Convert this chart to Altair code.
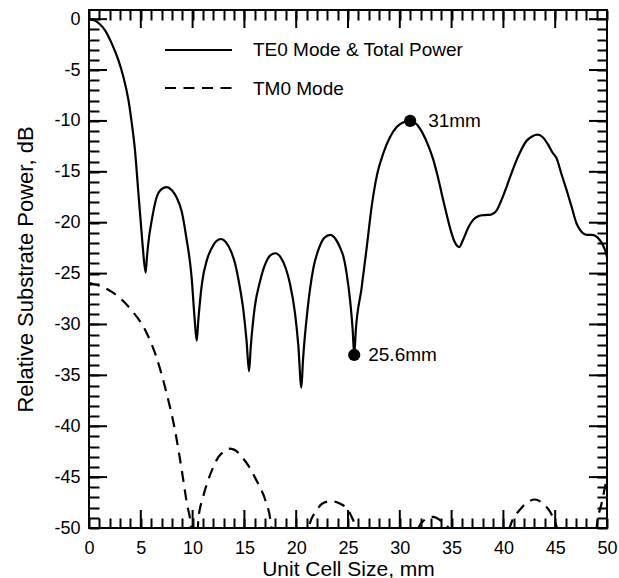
import altair as alt
import pandas as pd

# ---------------- data ----------------
te0_x = [0, 0.5, 1.0, 1.55, 2.2, 2.83, 3.3, 3.8, 4.1, 4.44, 4.76, 5.0, 5.2, 5.47,
         5.6, 5.8, 6.05, 6.5, 7.0, 7.5, 8.0, 8.5, 8.95, 9.4, 9.9, 10.2, 10.4,
         10.55, 10.9, 11.4, 11.84, 12.3, 12.75, 13.2, 13.7, 14.1, 14.5, 14.9, 15.2, 15.45,
         15.6, 16.0, 16.5, 17.0, 17.5, 18.0, 18.5, 19.0, 19.4, 19.9, 20.2, 20.5,
         20.65, 21.1, 21.65, 22.2, 22.7, 23.3, 23.8, 24.3, 24.55, 24.87, 25.2, 25.45, 25.6,
         25.75, 26.3, 26.8, 27.3, 27.8, 28.4, 29.0, 29.7, 30.3, 31.0,
         31.6, 32.2, 32.7, 33.2, 33.7, 34.1, 34.5, 34.9, 35.3, 35.75,
         36.1, 36.6, 37.1, 37.6, 38.2, 38.8, 39.35, 39.8, 40.3, 40.9, 41.6, 42.2, 42.8, 43.3,
         43.8, 44.3, 44.8, 45.1, 45.6, 46.1, 46.6, 47.07, 47.4, 47.7, 48.1, 48.5, 48.9,
         49.3, 49.6, 49.85, 50.0]
te0_db = [0, -0.1, -0.45, -1.1, -2.4, -4.0, -5.6, -7.9, -10.0, -12.9, -17.0, -20.0, -22.5, -24.9,
          -23.3, -21.4, -19.8, -17.6, -16.7, -16.5, -16.8, -17.6, -18.9, -21.5, -25.3, -29.5, -31.6,
          -29.6, -26.0, -23.6, -22.5, -21.8, -21.6, -21.9, -22.8, -24.0, -26.0, -28.6, -31.5, -34.6,
          -32.4, -28.3, -25.8, -24.1, -23.2, -23.0, -23.4, -24.5, -26.0, -29.0, -32.0, -36.2,
          -33.6, -28.5, -24.5, -22.5, -21.5, -21.2, -21.6, -22.6, -23.3, -25.0, -27.6, -30.5, -33.0,
          -30.6, -26.5, -22.5, -18.3, -15.3, -13.2, -11.7, -10.6, -10.15, -10.0,
          -10.3, -11.2, -12.3, -13.7, -15.6, -17.4, -19.1, -20.7, -21.9, -22.4,
          -21.7, -20.5, -19.7, -19.35, -19.25, -19.2, -18.8, -17.8, -16.5, -14.8, -13.1, -12.0, -11.5, -11.35,
          -11.6, -12.3, -13.2, -13.6, -15.2, -16.8, -18.5, -20.1, -20.7, -21.05, -21.2, -21.2, -21.3,
          -21.7, -22.2, -22.8, -23.4]

tm0_x = [0, 1.0, 2.2, 3.2, 4.1, 5.4, 6.5, 7.5, 8.3, 8.95, 9.45, 9.85, 10.1,
         10.3, 10.55, 11.0, 11.5, 12.0, 12.5, 13.0, 13.5, 14.0, 14.74, 15.4, 16.0, 16.5, 17.0, 17.6, 17.9,
         20.9, 21.2, 22.0, 22.7, 23.4, 24.2, 24.9, 25.3, 25.7, 26.0,
         31.5, 31.8, 32.4, 33.2, 34.0, 34.7, 35.0,
         40.3, 40.6, 41.6, 42.3, 43.05, 43.7, 44.3, 44.8, 45.15, 45.4,
         48.7, 49.0, 49.5, 50.0]
tm0_db = [-25.9, -26.2, -26.8, -27.6, -28.6, -30.5, -33.2, -36.8, -40.4, -44.3, -47.6, -50.0, -60.0,
          -60.0, -49.2, -47.0, -45.3, -44.0, -43.0, -42.5, -42.2, -42.3, -43.0, -43.9, -45.0, -46.0, -47.2, -49.9, -60.0,
          -60.0, -50.0, -48.2, -47.5, -47.35, -47.6, -48.1, -48.8, -50.0, -60.0,
          -60.0, -50.0, -49.2, -48.9, -49.3, -50.0, -60.0,
          -60.0, -50.0, -48.2, -47.5, -47.2, -47.5, -48.1, -49.0, -50.0, -60.0,
          -60.0, -50.0, -47.5, -45.0]

marker_x = [25.6, 31.0]
marker_db = [-33.0, -10.0]
marker_labels = ["25.6mm", "31mm"]

legend_labels = ["TE0 Mode & Total Power", "TM0 Mode"]

x_major = [0, 5, 10, 15, 20, 25, 30, 35, 40, 45, 50]
x_all = list(range(0, 51))
y_major = [0, -5, -10, -15, -20, -25, -30, -35, -40, -45, -50]
y_all = list(range(-50, 1))

x_title = "Unit Cell Size, mm"
y_title = "Relative Substrate Power, dB"

# ---------------- tables ----------------
te0 = pd.DataFrame({"size": te0_x, "db": te0_db})
tm0 = pd.DataFrame({"size": tm0_x, "db": tm0_db})
marks = pd.DataFrame({"size": marker_x, "db": marker_db, "label": marker_labels})
leg1 = pd.DataFrame({"label": [legend_labels[0]]})
leg2 = pd.DataFrame({"label": [legend_labels[1]]})

FONT = "Liberation Sans, Arial, sans-serif"
W, H = 518, 518
MAJOR, MINOR = 18, 10
X_MIN, X_MAX, Y_MIN, Y_MAX = 0, 50, -50, 0.9
PX_PER_X = W / (X_MAX - X_MIN)
PX_PER_Y = H / (Y_MAX - Y_MIN)

xs = alt.Scale(domain=[X_MIN, X_MAX], nice=False, zero=False)
ys = alt.Scale(domain=[Y_MIN, Y_MAX], nice=False, zero=False)

# long inward major ticks as two-point line segments (one id per tick)
seg_rows = []
k = 0
for v in x_major:
    for edge, sign in ((Y_MIN, 1), (Y_MAX, -1)):
        seg_rows.append({"id": k, "size": v, "db": edge})
        seg_rows.append({"id": k, "size": v, "db": edge + sign * MAJOR / PX_PER_Y})
        k += 1
for v in y_major:
    for edge, sign in ((X_MIN, 1), (X_MAX, -1)):
        seg_rows.append({"id": k, "size": edge, "db": v})
        seg_rows.append({"id": k, "size": edge + sign * MAJOR / PX_PER_X, "db": v})
        k += 1
major_ticks = pd.DataFrame(seg_rows)

x_axis = alt.Axis(title=x_title, values=x_major, ticks=False, domain=False, grid=False,
                  labelFont=FONT, labelFontSize=18, labelColor="black", labelPadding=11,
                  labelFlush=False, labelOverlap=False, labelExpr="'' + datum.value",
                  titleFont=FONT, titleFontSize=21, titleFontWeight="normal", titleColor="black",
                  titleX=259, titleY=47, titleBaseline="alphabetic")
y_axis = alt.Axis(title=y_title, values=y_major, ticks=False, domain=False, grid=False,
                  labelFont=FONT, labelFontSize=18, labelColor="black", labelPadding=9,
                  labelFlush=False, labelOverlap=False, labelExpr="'' + datum.value",
                  titleFont=FONT, titleFontSize=22, titleFontWeight="normal", titleColor="black",
                  titleX=-57, titleY=259, titleAngle=270, titleBaseline="alphabetic",
                  titleAlign="center")


def tick_axis(orient, values, size):
    # an axis moved to the opposite edge so that its ticks point into the plot
    return alt.Axis(orient=orient, offset=-W if orient in ("left", "right") else -H,
                    values=values, ticks=True, tickSize=size, tickWidth=2,
                    tickColor="black", tickOpacity=1, labels=False, domain=False,
                    grid=False, title=None)


X = alt.X("size:Q", scale=xs, axis=x_axis)
Y = alt.Y("db:Q", scale=ys, axis=y_axis)
Xn = alt.X("size:Q", scale=xs, axis=None)
Yn = alt.Y("db:Q", scale=ys, axis=None)

te0_line = alt.Chart(te0).mark_line(color="black", strokeWidth=2.2, interpolate="monotone",
                                    clip=True).encode(x=X, y=Y)
tm0_line = alt.Chart(tm0).mark_line(color="black", strokeWidth=2.2, interpolate="monotone",
                                    strokeDash=[11, 7.5], clip=True).encode(x=Xn, y=Yn)
major_lines = alt.Chart(major_ticks).mark_line(color="black", strokeWidth=2).encode(
    x=Xn, y=Yn, detail="id:N")
dots = alt.Chart(marks).mark_circle(color="black", opacity=1, size=150).encode(x=Xn, y=Yn)
lab_a = alt.Chart(marks).transform_filter(alt.datum.label == "25.6mm").mark_text(
    align="left", baseline="alphabetic", dx=14, dy=6, font=FONT, fontSize=19, color="black"
).encode(x=Xn, y=Yn, text="label:N")
lab_b = alt.Chart(marks).transform_filter(alt.datum.label == "31mm").mark_text(
    align="left", baseline="alphabetic", dx=18, dy=6, font=FONT, fontSize=19, color="black"
).encode(x=Xn, y=Yn, text="label:N")

# short inward ticks at every integer, drawn by axes placed on the opposite edge
tick_layers = []
for xo, yo in (("top", "right"), ("bottom", "left")):
    tick_layers.append(
        alt.Chart(marks).mark_point(opacity=0).encode(
            x=alt.X("size:Q", scale=xs, axis=tick_axis(xo, x_all, MINOR)),
            y=alt.Y("db:Q", scale=ys, axis=tick_axis(yo, y_all, MINOR)),
        )
    )

# ---- legend drawn inside the plot ----
leg_line1 = alt.Chart(leg1).mark_rule(color="black", strokeWidth=2.2).encode(
    x=alt.value(76), x2=alt.value(143), y=alt.value(40))
leg_line2 = alt.Chart(leg2).mark_rule(color="black", strokeWidth=2.2, strokeDash=[11, 7.5]).encode(
    x=alt.value(76), x2=alt.value(143), y=alt.value(78))
leg_text1 = alt.Chart(leg1).mark_text(align="left", baseline="alphabetic", font=FONT,
                                      fontSize=19, color="black").encode(
    x=alt.value(164), y=alt.value(46), text="label:N")
leg_text2 = alt.Chart(leg2).mark_text(align="left", baseline="alphabetic", font=FONT,
                                      fontSize=19, color="black").encode(
    x=alt.value(164), y=alt.value(85), text="label:N")

chart = alt.layer(
    te0_line, tm0_line, major_lines, *tick_layers, dots, lab_a, lab_b,
    leg_line1, leg_line2, leg_text1, leg_text2
).resolve_axis(
    x="independent", y="independent"
).properties(
    width=W, height=H,
    padding={"left": 89, "top": 10, "right": 12, "bottom": 50},
    autosize=alt.AutoSizeParams(type="none"),
    background="white",
).configure_view(
    stroke="black", strokeWidth=2
)

chart.save("out.html", embed_options={"renderer": "svg", "actions": False})
